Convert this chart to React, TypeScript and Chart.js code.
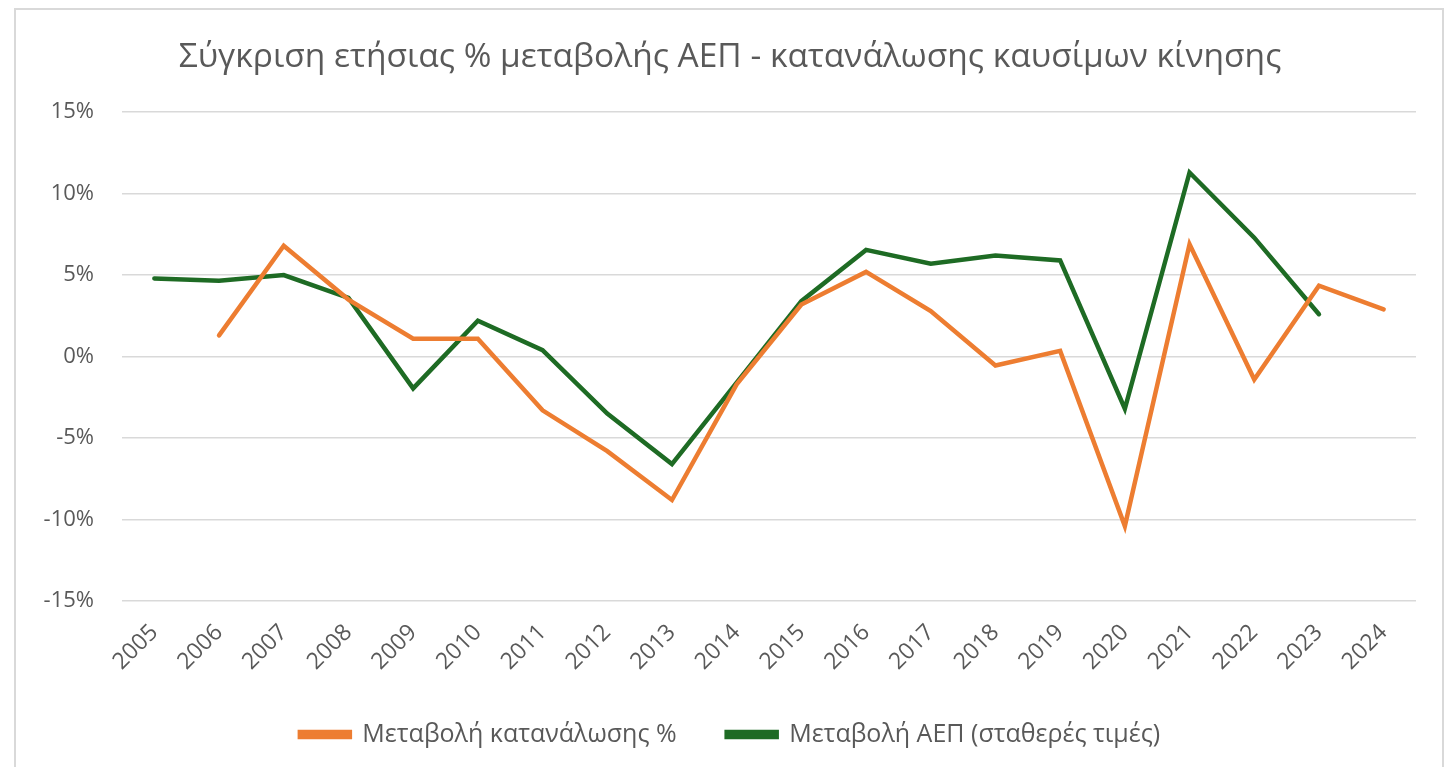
import React, { useEffect, useRef } from "react";
import { Chart, registerables } from "chart.js";

Chart.register(...registerables);

const years = ["2005","2006","2007","2008","2009","2010","2011","2012","2013","2014","2015","2016","2017","2018","2019","2020","2021","2022","2023","2024"];
const consumption = [null, 1.3, 6.8, 3.5, 1.1, 1.1, -3.3, -5.8, -8.8, -1.7, 3.2, 5.2, 2.8, -0.55, 0.35, -10.4, 6.9, -1.4, 4.35, 2.9];
const gdp = [4.8, 4.65, 5.0, 3.6, -1.95, 2.2, 0.4, -3.5, -6.6, -1.6, 3.4, 6.55, 5.7, 6.2, 5.9, -3.2, 11.3, 7.3, 2.6, null];
const title = "Σύγκριση ετήσιας % μεταβολής ΑΕΠ - κατανάλωσης καυσίμων κίνησης";
const seriesNames = ["Μεταβολή κατανάλωσης %", "Μεταβολή ΑΕΠ (σταθερές τιμές)"];
const colors = ["#ED7D31", "#1E6B24"];
const textColor = "#595959";
const fontFamily = "'Open Sans', 'Noto Sans', sans-serif";

export default function App() {
  const ref = useRef<HTMLCanvasElement | null>(null);
  useEffect(() => {
    if (!ref.current) return;
    const chart = new Chart(ref.current, {
      type: "line",
      data: {
        labels: years,
        datasets: [
          {
            label: seriesNames[0],
            data: consumption,
            borderColor: colors[0],
            backgroundColor: colors[0],
            borderWidth: 4.5,
            pointRadius: 0,
            borderCapStyle: "round",
            tension: 0,
          },
          {
            label: seriesNames[1],
            data: gdp,
            borderColor: colors[1],
            backgroundColor: colors[1],
            borderWidth: 4.5,
            pointRadius: 0,
            borderCapStyle: "round",
            tension: 0,
          },
        ],
      },
      options: {
        animation: false,
        responsive: false,
        maintainAspectRatio: false,
        layout: { padding: { left: 28, right: 26, top: 0, bottom: 10 } },
        plugins: {
          title: {
            display: true,
            text: title,
            color: textColor,
            font: { family: fontFamily, size: 33.5, weight: "normal" },
            padding: { top: 27, bottom: 35 },
          },
          legend: {
            position: "bottom",
            labels: {
              color: textColor,
              font: { family: fontFamily, size: 25 },
              boxWidth: 50,
              boxHeight: 5,
              padding: 50,
            },
          },
          tooltip: { enabled: false },
        },
        scales: {
          x: {
            offset: true,
            grid: { display: false, drawTicks: false, offset: true },
            border: { display: false },
            afterFit: (s: any) => { s.height = 71; },
            ticks: {
              color: textColor,
              font: { family: fontFamily, size: 23 },
              maxRotation: 45,
              minRotation: 45,
              padding: 18,
              autoSkip: false,
            },
          },
          y: {
            min: -15,
            max: 15,
            grid: { color: "#d9d9d9", lineWidth: 1.5, drawTicks: false },
            border: { display: false },
            afterFit: (s: any) => { s.width = 78; },
            ticks: {
              stepSize: 5,
              color: textColor,
              font: { family: fontFamily, size: 22 },
              padding: 28,
              callback: (v: any) => v + "%",
            },
          },
        },
      },
    });
    return () => chart.destroy();
  }, []);
  return (
    <div
      style={{
        position: "absolute",
        left: 14,
        top: 8,
        width: 1426,
        height: 800,
        border: "2px solid #d9d9d9",
        background: "#fff",
      }}
    >
      <canvas ref={ref} width={1426} height={757} style={{ display: "block" }} />
    </div>
  );
}
